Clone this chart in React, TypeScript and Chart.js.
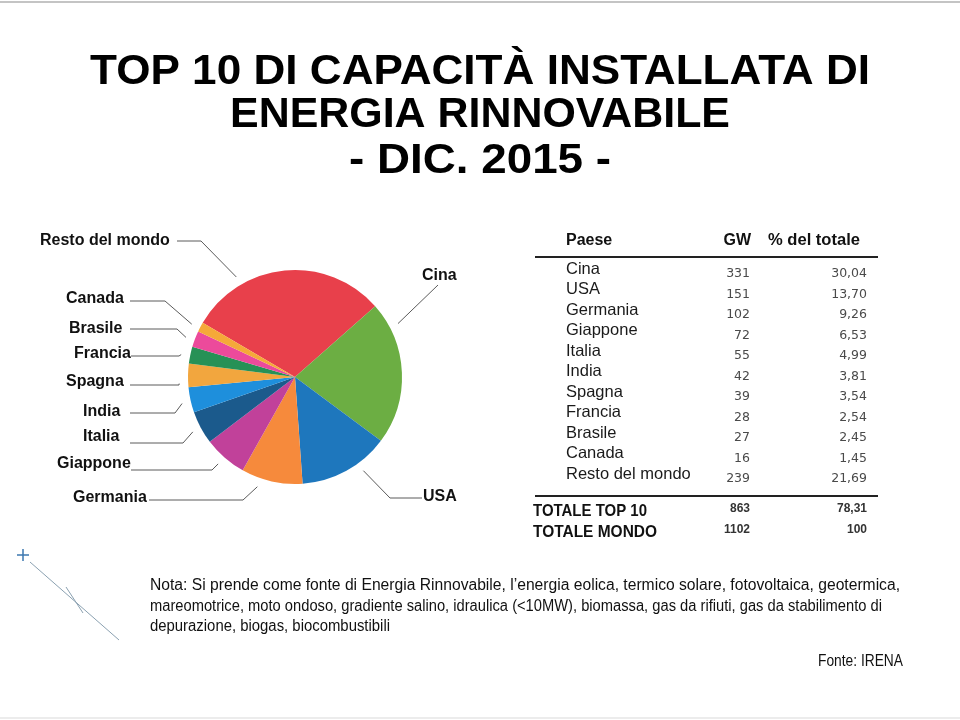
import React, { useEffect, useRef } from 'react';
import { Chart, registerables } from 'chart.js';

Chart.register(...registerables);

// ---------- DATA ----------
const titleLines = ['TOP 10 DI CAPACITÀ INSTALLATA DI', 'ENERGIA RINNOVABILE', '- DIC. 2015 -'];

const tableHeader = ['Paese', 'GW', '% del totale'];
const tableCountries = ['Cina', 'USA', 'Germania', 'Giappone', 'Italia', 'India', 'Spagna', 'Francia', 'Brasile', 'Canada', 'Resto del mondo'];
const tableGW = [331, 151, 102, 72, 55, 42, 39, 28, 27, 16, 239];
const tablePct = ['30,04', '13,70', '9,26', '6,53', '4,99', '3,81', '3,54', '2,54', '2,45', '1,45', '21,69'];

const totalLabels = ['TOTALE TOP 10', 'TOTALE MONDO'];
const totalGW = [863, 1102];
const totalPct = ['78,31', '100'];

// pie slice order (clockwise), values taken from the table
const pieOrder = ['Cina', 'Resto del mondo', 'USA', 'Germania', 'Giappone', 'Italia', 'India', 'Spagna', 'Francia', 'Brasile', 'Canada'];
const pieColors = ['#E8404B', '#6CAE43', '#1E77BD', '#F68A3C', '#C1419A', '#1B5A8C', '#1E8FDC', '#F2A63E', '#279156', '#EC4A9B', '#F5A939'];

const noteLines = [
  'Nota: Si prende come fonte di Energia Rinnovabile, l\u2019energia eolica, termico solare, fotovoltaica, geotermica,',
  'mareomotrice, moto ondoso, gradiente salino, idraulica (<10MW), biomassa, gas da rifiuti, gas da stabilimento di',
  'depurazione, biogas, biocombustibili',
];
const sourceText = 'Fonte: IRENA';

// callout labels around the pie (text, slice it points to, fraction within slice)
const calloutTexts = ['Resto del mondo', 'Canada', 'Brasile', 'Francia', 'Spagna', 'India', 'Italia', 'Giappone', 'Germania', 'USA', 'Cina'];
const calloutTargets = ['Cina', 'Canada', 'Brasile', 'Francia', 'Spagna', 'India', 'Italia', 'Giappone', 'Germania', 'USA', 'Resto del mondo'];
const calloutFracs = [0.27, 0.37, 0.41, 0.43, 0.18, 0.44, 0.5, 0.52, 0.69, 0.35, 0.18];

// ---------- LAYOUT (positions only) ----------
const calloutLayout = [
  { x: 40, y: 241, sx: 177, ex: 201, ly: 241 },
  { x: 66, y: 299, sx: 130, ex: 165, ly: 301 },
  { x: 69, y: 329, sx: 130, ex: 177, ly: 329 },
  { x: 74, y: 354, sx: 131, ex: 179, ly: 356 },
  { x: 66, y: 382, sx: 130, ex: 179, ly: 385 },
  { x: 83, y: 412, sx: 130, ex: 175, ly: 413 },
  { x: 83, y: 437, sx: 130, ex: 183, ly: 443 },
  { x: 57, y: 464, sx: 131, ex: 212, ly: 470 },
  { x: 73, y: 498, sx: 149, ex: 243, ly: 500 },
  { x: 423, y: 497, sx: 422, ex: 390, ly: 498 },
  { x: 422, y: 276, sx: 438, ex: 438, ly: 285 },
];

function fitText(ctx: CanvasRenderingContext2D, text: string, x: number, y: number, width: number, align: 'left' | 'center' | 'right') {
  const w = ctx.measureText(text).width;
  const sx = width / w;
  let left = x;
  if (align === 'center') left = x - width / 2;
  if (align === 'right') left = x - width;
  ctx.save();
  ctx.textAlign = 'left';
  ctx.translate(left, y);
  ctx.scale(sx, 1);
  ctx.fillText(text, 0, 0);
  ctx.restore();
}

const overlayPlugin = {
  id: 'overlay',
  afterDraw(chart: any) {
    const ctx: CanvasRenderingContext2D = chart.ctx;
    const meta = chart.getDatasetMeta(0);
    ctx.save();

    // frame lines
    ctx.strokeStyle = '#c4c4c4';
    ctx.lineWidth = 2;
    ctx.beginPath();
    ctx.moveTo(0, 2);
    ctx.lineTo(960, 2);
    ctx.stroke();
    ctx.strokeStyle = '#ececec';
    ctx.beginPath();
    ctx.moveTo(0, 718);
    ctx.lineTo(960, 718);
    ctx.stroke();

    // title
    ctx.fillStyle = '#000';
    ctx.textBaseline = 'alphabetic';
    ctx.font = 'bold 43px "Liberation Sans", Arial, sans-serif';
    const titleWidths = [780, 500, 262];
    const titleBase = [84, 127, 173];
    titleLines.forEach((t, i) => fitText(ctx, t, 480, titleBase[i], titleWidths[i], 'center'));

    // callouts
    ctx.textBaseline = 'middle';
    ctx.font = 'bold 16px "Liberation Sans", Arial, sans-serif';
    ctx.strokeStyle = '#5a5a5a';
    ctx.lineWidth = 1;
    calloutTexts.forEach((t, i) => {
      const L = calloutLayout[i];
      ctx.fillStyle = '#111';
      ctx.textAlign = 'left';
      ctx.fillText(t, L.x, L.y);
      const idx = pieOrder.indexOf(calloutTargets[i]);
      const arc = meta.data[idx];
      if (!arc) return;
      const p = arc.getProps(['x', 'y', 'startAngle', 'endAngle', 'outerRadius'], true);
      const a = p.startAngle + calloutFracs[i] * (p.endAngle - p.startAngle);
      const r = p.outerRadius + 9;
      const ax = p.x + r * Math.cos(a);
      const ay = p.y + r * Math.sin(a);
      ctx.beginPath();
      ctx.moveTo(L.sx, L.ly);
      ctx.lineTo(L.ex, L.ly);
      ctx.lineTo(ax, ay);
      ctx.stroke();
    });

    // table header
    ctx.fillStyle = '#111';
    ctx.font = 'bold 16px "Liberation Sans", Arial, sans-serif';
    ctx.textAlign = 'left';
    ctx.fillText(tableHeader[0], 566, 241);
    ctx.textAlign = 'right';
    ctx.fillText(tableHeader[1], 751, 241);
    ctx.textAlign = 'left';
    fitText(ctx, tableHeader[2], 768, 241, 92, 'left');

    ctx.strokeStyle = '#222';
    ctx.lineWidth = 2;
    ctx.beginPath();
    ctx.moveTo(535, 257);
    ctx.lineTo(878, 257);
    ctx.moveTo(535, 496);
    ctx.lineTo(878, 496);
    ctx.stroke();

    // table rows
    tableCountries.forEach((c, i) => {
      const y = 269 + i * 20.5;
      ctx.fillStyle = '#1a1a1a';
      ctx.font = '16.5px "Liberation Sans", Arial, sans-serif';
      ctx.textAlign = 'left';
      ctx.fillText(c, 566, y);
      ctx.fillStyle = '#4a4a4a';
      ctx.font = '12.5px "DejaVu Sans", sans-serif';
      ctx.textAlign = 'right';
      ctx.fillText(String(tableGW[i]), 750, y + 5);
      ctx.fillText(tablePct[i], 867, y + 5);
    });

    // totals
    totalLabels.forEach((t, i) => {
      const y = 511 + i * 21;
      ctx.fillStyle = '#111';
      ctx.font = 'bold 17px "Liberation Sans", Arial, sans-serif';
      fitText(ctx, t, 533, y, i === 0 ? 114 : 124, 'left');
      ctx.font = 'bold 12px "Liberation Sans", Arial, sans-serif';
      ctx.fillStyle = '#333';
      ctx.textAlign = 'right';
      ctx.fillText(String(totalGW[i]), 750, y - 2);
      ctx.fillText(totalPct[i], 867, y - 2);
    });

    // note
    ctx.fillStyle = '#111';
    ctx.font = '16px "Liberation Sans", Arial, sans-serif';
    const noteWidths = [750, 732, 240];
    noteLines.forEach((t, i) => fitText(ctx, t, 150, 586 + i * 20.5, noteWidths[i], 'left'));
    fitText(ctx, sourceText, 903, 662, 85, 'right');

    // decorative marks
    ctx.strokeStyle = '#3d78b0';
    ctx.lineWidth = 1.5;
    ctx.beginPath();
    ctx.moveTo(17, 555);
    ctx.lineTo(29, 555);
    ctx.moveTo(23, 549);
    ctx.lineTo(23, 561);
    ctx.stroke();
    ctx.strokeStyle = '#8aa0b0';
    ctx.lineWidth = 1;
    ctx.beginPath();
    ctx.moveTo(30, 562);
    ctx.lineTo(119, 640);
    ctx.moveTo(66, 587);
    ctx.lineTo(83, 613);
    ctx.stroke();

    ctx.restore();
  },
};

export default function App() {
  const ref = useRef<HTMLCanvasElement | null>(null);
  useEffect(() => {
    const canvas = ref.current;
    if (!canvas) return;
    const values = pieOrder.map((n) => tableGW[tableCountries.indexOf(n)]);
    const chart = new Chart(canvas, {
      type: 'pie',
      data: {
        labels: pieOrder,
        datasets: [
          {
            data: values,
            backgroundColor: pieColors,
            borderWidth: 0,
          },
        ],
      },
      options: {
        responsive: false,
        animation: false,
        devicePixelRatio: 1,
        rotation: -59.6,
        layout: { padding: { left: 188, right: 558, top: 270, bottom: 236 } },
        plugins: {
          legend: { display: false },
          tooltip: { enabled: false },
          title: { display: false },
        },
      },
      plugins: [overlayPlugin],
    } as any);
    return () => chart.destroy();
  }, []);
  return (
    <div style={{ position: 'absolute', left: 0, top: 0, width: 960, height: 720, background: '#fff' }}>
      <canvas ref={ref} width={960} height={720} style={{ width: 960, height: 720, display: 'block' }} />
    </div>
  );
}
